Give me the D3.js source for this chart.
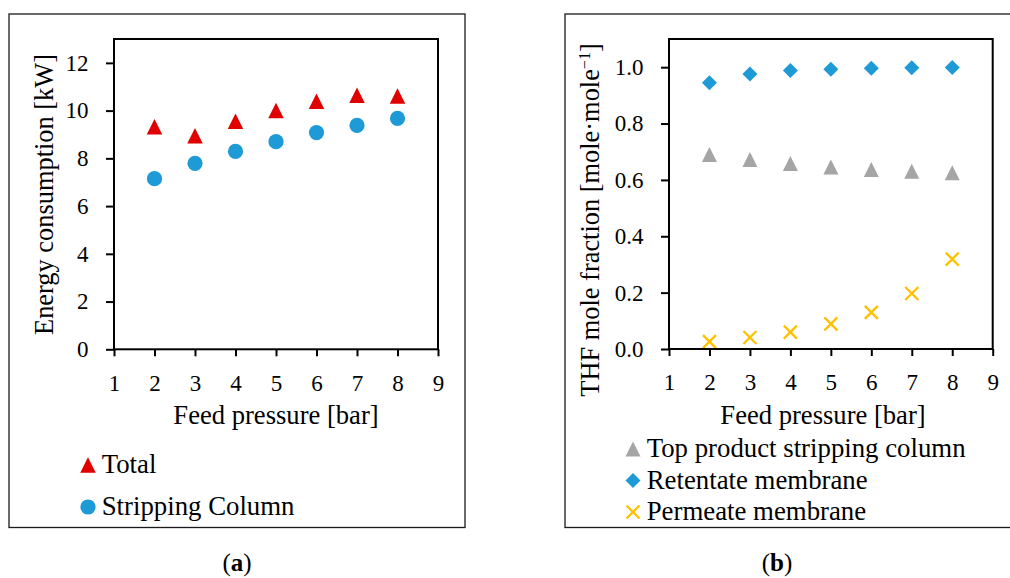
<!DOCTYPE html>
<html>
<head>
<meta charset="utf-8">
<script src="https://cdn.jsdelivr.net/npm/d3@7"></script>
<style>
  body { margin: 0; background: #fff; }
  svg text { font-family: "Palatino Linotype", "Book Antiqua", Palatino, "Liberation Serif", serif; fill: #000; }
</style>
</head>
<body>
<svg id="chart" width="1010" height="578"></svg>
<script>
// values
const pressure = [2, 3, 4, 5, 6, 7, 8];
const totalEnergy = [9.32, 8.95, 9.55, 10.0, 10.39, 10.64, 10.61];
const strippingEnergy = [7.15, 7.79, 8.29, 8.70, 9.08, 9.38, 9.67];
const topProductThf = [0.690, 0.672, 0.658, 0.646, 0.637, 0.631, 0.625];
const retentateThf = [0.945, 0.976, 0.988, 0.993, 0.996, 0.998, 0.999];
const permeateThf = [0.026, 0.041, 0.060, 0.089, 0.130, 0.197, 0.319];

const pressureTicks = [1, 2, 3, 4, 5, 6, 7, 8, 9];
const energyTicks = [0, 2, 4, 6, 8, 10, 12];
const fractionTicks = [0, 0.2, 0.4, 0.6, 0.8, 1.0];

// Excel style markers (square bounding box)
const triangleUp = {
    draw(ctx, size) {
        const r = Math.sqrt(size) / 2;
        ctx.moveTo(0, -r); ctx.lineTo(r, r); ctx.lineTo(-r, r); ctx.closePath();
    }
};
const squareDiamond = {
    draw(ctx, size) {
        const r = Math.sqrt(size) / 2;
        ctx.moveTo(0, -r); ctx.lineTo(r, 0); ctx.lineTo(0, r); ctx.lineTo(-r, 0); ctx.closePath();
    }
};
const crossX = {
    draw(ctx, size) {
        const r = Math.sqrt(size) / 2;
        ctx.moveTo(-r, -r); ctx.lineTo(r, r); ctx.moveTo(r, -r); ctx.lineTo(-r, r);
    }
};

class ScatterPanel {
    constructor(_config, _series) {
        this.config = _config;
        this.series = _series;
        this.initVis();
    }

    initVis() {
        let vis = this;
        const c = vis.config;
        vis.svg = d3.select('#chart');

        // outer chart border
        vis.svg.append('rect')
            .attr('x', c.frame.x).attr('y', c.frame.y)
            .attr('width', c.frame.width).attr('height', c.frame.height)
            .attr('fill', 'none').attr('stroke', '#1a1a1a').attr('stroke-width', 1.3);

        vis.chart = vis.svg.append('g')
            .attr('transform', `translate(${c.plot.left},${c.plot.top})`);

        vis.xScale = d3.scaleLinear().domain([1, 9]).range([0, c.plot.width]);
        vis.yScale = d3.scaleLinear().domain(c.yDomain).range([c.plot.height, 0]);

        vis.renderVis();
    }

    renderVis() {
        let vis = this;
        const c = vis.config;

        vis.series.forEach(s => {
            const sym = d3.symbol().type(s.symbol).size(s.size);
            vis.chart.append('g').selectAll('path')
                .data(pressure.map((p, i) => ({x: p, y: s.values[i]})))
                .join('path')
                .attr('transform', d => `translate(${vis.xScale(d.x)},${vis.yScale(d.y)})`)
                .attr('d', sym)
                .attr('fill', s.stroke ? 'none' : s.color)
                .attr('stroke', s.stroke ? s.color : 'none')
                .attr('stroke-width', s.stroke || 0);
        });

        // axes
        const xAxis = d3.axisBottom(vis.xScale)
            .tickValues(pressureTicks)
            .tickSizeInner(7).tickSizeOuter(0).tickPadding(18)
            .tickFormat(d3.format('d'));
        const yAxis = d3.axisLeft(vis.yScale)
            .tickValues(c.yTicks)
            .tickSizeInner(8).tickSizeOuter(0).tickPadding(17.6)
            .tickFormat(c.yFormat);

        [vis.chart.append('g').attr('transform', `translate(0,${c.plot.height})`).call(xAxis),
         vis.chart.append('g').call(yAxis)].forEach(g => {
            g.attr('font-size', 23);
            g.select('.domain').remove();
            g.selectAll('.tick line').attr('stroke', '#000').attr('stroke-width', 2);
        });

        // plot area border
        vis.chart.append('rect')
            .attr('width', c.plot.width).attr('height', c.plot.height)
            .attr('fill', 'none').attr('stroke', '#000').attr('stroke-width', 2);

        // axis titles
        vis.svg.append('text')
            .attr('x', c.xTitle.x).attr('y', c.xTitle.y)
            .attr('text-anchor', 'middle').attr('font-size', 26.6)
            .text('Feed pressure [bar]');

        const yTitle = vis.svg.append('text')
            .attr('transform', `translate(${c.yTitle.x},${c.yTitle.y}) rotate(-90)`)
            .attr('text-anchor', 'middle').attr('font-size', 26.4);
        c.yTitle.parts.forEach(p => {
            yTitle.append('tspan')
                .attr('dy', p.sup ? -9 : (p.after ? 9 : 0))
                .attr('font-size', p.sup ? 16 : 26.4)
                .text(p.text);
        });

        // legend
        vis.series.forEach((s, i) => {
            const y = c.legend.y + i * c.legend.step;
            vis.svg.append('path')
                .attr('transform', `translate(${c.legend.x},${y})`)
                .attr('d', d3.symbol().type(s.symbol).size(s.size)())
                .attr('fill', s.stroke ? 'none' : s.color)
                .attr('stroke', s.stroke ? s.color : 'none')
                .attr('stroke-width', s.stroke || 0);
            vis.svg.append('text')
                .attr('x', c.legend.x + 13.7).attr('y', y + 8)
                .attr('font-size', 26.8)
                .text(s.name);
        });

        // caption
        const cap = vis.svg.append('text')
            .attr('x', c.caption.x).attr('y', 571)
            .attr('text-anchor', 'middle').attr('font-size', 25);
        cap.append('tspan').text('(');
        cap.append('tspan').attr('font-weight', 'bold').text(c.caption.label);
        cap.append('tspan').text(')');
    }
}

new ScatterPanel({
    frame: {x: 9, y: 14, width: 456, height: 513.5},
    plot: {left: 114, top: 39, width: 324, height: 310.3},
    yDomain: [0, 13],
    yTicks: energyTicks,
    yFormat: d3.format('d'),
    xTitle: {x: 276, y: 424},
    yTitle: {x: 53, y: 194.5, parts: [{text: 'Energy consumption [kW]'}]},
    legend: {x: 88, y: 465, step: 42},
    caption: {x: 237, label: 'a'}
}, [
    {name: 'Total', values: totalEnergy, symbol: triangleUp, size: 240, color: '#e00000'},
    {name: 'Stripping Column', values: strippingEnergy, symbol: d3.symbolCircle, size: 182, color: '#1e9bd7'}
]);

new ScatterPanel({
    frame: {x: 565, y: 14, width: 470, height: 513.5},
    plot: {left: 669, top: 39, width: 323.7, height: 310},
    yDomain: [0, 1.1],
    yTicks: fractionTicks,
    yFormat: d3.format('.1f'),
    xTitle: {x: 823, y: 424},
    yTitle: {x: 599, y: 220, parts: [
        {text: 'THF mole fraction [mole·mole'},
        {text: '−1', sup: true},
        {text: ']', after: true}
    ]},
    legend: {x: 633, y: 449, step: 31.5},
    caption: {x: 777, label: 'b'}
}, [
    {name: 'Top product stripping column', values: topProductThf, symbol: triangleUp, size: 225, color: '#a5a5a5'},
    {name: 'Retentate membrane', values: retentateThf, symbol: squareDiamond, size: 225, color: '#1e9bd7'},
    {name: 'Permeate membrane', values: permeateThf, symbol: crossX, size: 169, color: '#ffc000', stroke: 2.3}
]);
</script>
</body>
</html>
